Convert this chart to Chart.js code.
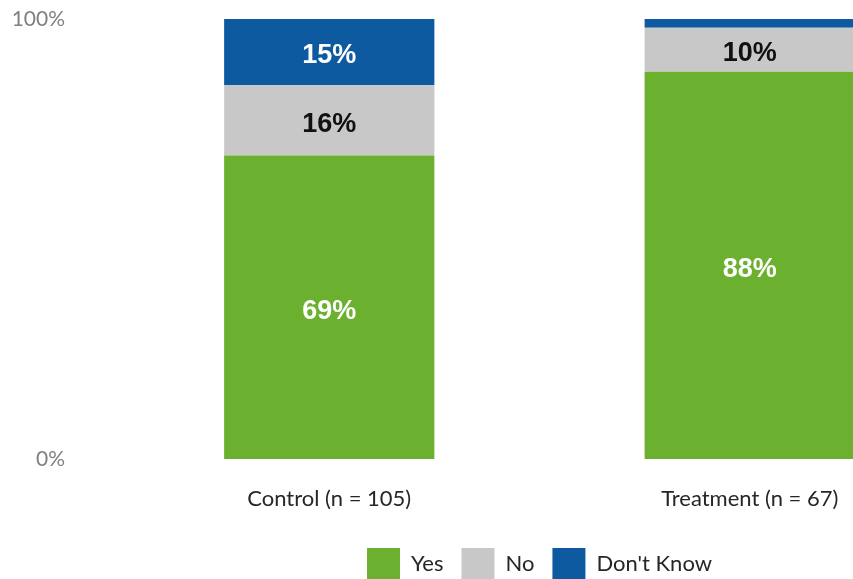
<!DOCTYPE html>
<html lang="en">
<head>
  <meta charset="UTF-8">
  <title>Yes / No / Don't Know by group</title>
  <script src="https://cdn.jsdelivr.net/npm/chart.js"></script>
  <style>
    html, body { margin: 0; padding: 0; overflow: hidden; background: #fff; }
  </style>
</head>
<body>
  <canvas id="stackChart" width="960" height="589"></canvas>

  <script>
    // Chart data
    const categories = ['Control (n = 105)', 'Treatment (n = 67)'];
    const yesValues = [69, 88];
    const noValues = [16, 10];
    const dontKnowValues = [15, 2];
    const yTicks = [0, 100];

    // Draws the percentage inside each segment (skips tiny ones)
    const segmentLabels = {
      id: 'segmentLabels',
      afterDatasetsDraw(chart) {
        const ctx = chart.ctx;
        ctx.save();
        ctx.font = 'bold 27px "Liberation Sans", Arial, sans-serif';
        ctx.textAlign = 'center';
        ctx.textBaseline = 'middle';
        chart.data.datasets.forEach((ds, i) => {
          const meta = chart.getDatasetMeta(i);
          meta.data.forEach((bar, j) => {
            const v = ds.data[j];
            if (v < 5) return;
            ctx.fillStyle = ds.labelColor;
            ctx.fillText(v + '%', bar.x, (bar.y + bar.base) / 2 + 4);
          });
        });
        ctx.restore();
      }
    };

    const ctx = document.getElementById('stackChart').getContext('2d');
    new Chart(ctx, {
      type: 'bar',
      data: {
        labels: categories,
        datasets: [
          { label: 'Yes', data: yesValues, backgroundColor: '#6BB02E', labelColor: '#ffffff' },
          { label: 'No', data: noValues, backgroundColor: '#C8C8C8', labelColor: '#111111' },
          { label: "Don't Know", data: dontKnowValues, backgroundColor: '#0E5AA0', labelColor: '#ffffff' }
        ]
      },
      options: {
        responsive: false,
        animation: false,
        layout: { padding: { top: 19, left: 0, right: 0, bottom: 0 } },
        datasets: {
          bar: { categoryPercentage: 0.5, barPercentage: 1, borderWidth: 0 }
        },
        scales: {
          x: {
            stacked: true,
            grid: { display: false, drawTicks: false },
            border: { display: false },
            ticks: {
              padding: 27,
              color: '#262626',
              font: { family: 'Lato, "Open Sans", sans-serif', size: 22 }
            },
            afterFit: s => { s.height = 71; }
          },
          y: {
            stacked: true,
            min: 0,
            max: 100,
            grid: { display: false, drawTicks: false },
            border: { display: false },
            afterBuildTicks: s => { s.ticks = yTicks.map(v => ({ value: v })); },
            ticks: {
              padding: 54,
              color: '#808080',
              font: { family: 'Lato, "Open Sans", sans-serif', size: 21 },
              callback: v => v + '%'
            },
            // big tick padding would otherwise push the plot down
            afterFit: s => { s.width = 119; s.paddingTop = 12; s.paddingBottom = 12; }
          }
        },
        plugins: {
          tooltip: { enabled: false },
          legend: {
            position: 'bottom',
            fullSize: false,
            labels: {
              boxWidth: 33,
              boxHeight: 31,
              padding: 18,
              color: '#262626',
              font: { family: 'Lato, "Open Sans", sans-serif', size: 22 }
            }
          }
        }
      },
      plugins: [segmentLabels]
    });
  </script>
</body>
</html>
